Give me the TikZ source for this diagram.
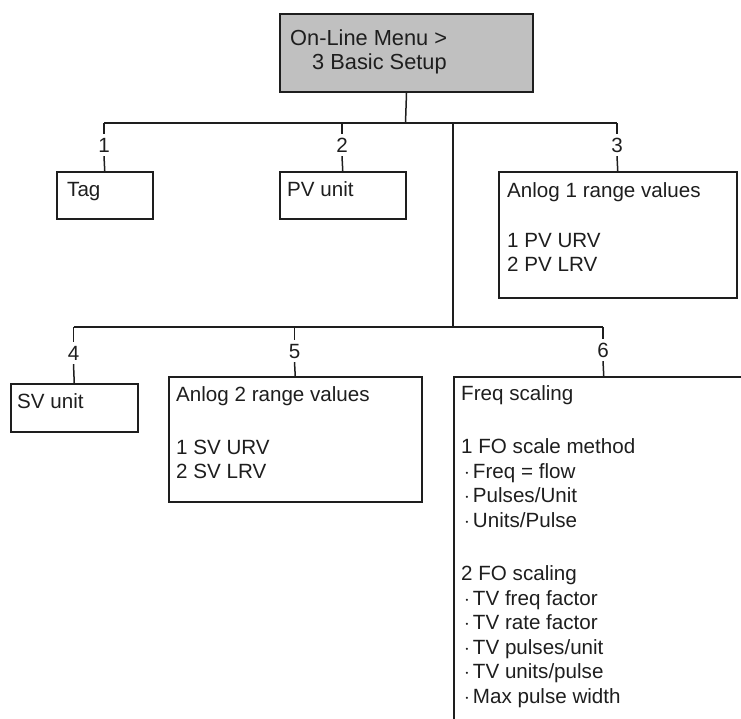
\documentclass[tikz,border=0pt]{standalone}
\usepackage{fontspec}
\setmainfont{Liberation Sans}
\definecolor{boxgray}{RGB}{192,192,192}
\definecolor{ink}{RGB}{30,30,30}
\begin{document}
\begin{tikzpicture}[x=1pt,y=-1pt,
  box/.style={draw=ink,line width=1.5pt,rectangle,anchor=north west,inner sep=0pt},
  txt/.style={anchor=north west,inner sep=0pt,align=left,text=ink,font=\fontsize{20.6}{24.5}\selectfont},
  num/.style={inner xsep=2pt,inner ysep=4pt,text height=14pt,text depth=0pt,text=ink,font=\fontsize{20.6}{24.5}\selectfont},
  conn/.style={draw=ink,line width=1.5pt}]
\useasboundingbox (0,0) rectangle (741,718);
\clip (0,0) rectangle (741,718);

% top box
\node[box,fill=boxgray,line width=2pt,minimum width=253pt,minimum height=78pt] (top) at (279,13) {};
\node[txt,font=\fontsize{21.8}{24}\selectfont] (toptxt) at (290,28.7) {\strut On-Line Menu >\\\hspace*{22pt}3 Basic Setup};

% junction coordinates
\coordinate (j0) at (405.5,123);
\coordinate (c1) at (104,123);
\coordinate (c2) at (342,123);
\coordinate (c3) at (617,123);
\coordinate (t1) at (453,123);
\coordinate (t2) at (453,327);
\coordinate (c4) at (73.5,327);
\coordinate (c5) at (294.5,327);
\coordinate (c6) at (603,327);

% first row boxes
\node[box,minimum width=96pt,minimum height=47pt] (tag) at (56,171) {};
\node[txt] (tagtxt) at (67,178.85) {\strut Tag};
\node[box,minimum width=126pt,minimum height=47pt] (pvu) at (279,171) {};
\node[txt] (pvutxt) at (287,178.85) {\strut PV unit};
\node[box,minimum width=238pt,minimum height=126pt] (an1) at (498,171) {};
\node[txt] (an1txt) at (507,179.85) {\strut Anlog 1 range values\\[25.5pt]1 PV URV\\2 PV LRV};

% second row boxes
\node[box,minimum width=127pt,minimum height=48pt] (svu) at (10,383) {};
\node[txt] (svutxt) at (17,390.85) {\strut SV unit};
\node[box,minimum width=253pt,minimum height=125pt] (an2) at (168,376) {};
\node[txt] (an2txt) at (176,383.85) {\strut Anlog 2 range values\\[28.5pt]1 SV URV\\2 SV LRV};
\node[box,minimum width=300pt,minimum height=400pt] (frq) at (453,376) {};
\node[txt] (frqtxt) at (461,382.85) {\strut Freq scaling\\[29pt]1 FO scale method\\
\hspace*{3pt}$\cdot$\hspace*{3pt}Freq = flow\\
\hspace*{3pt}$\cdot$\hspace*{3pt}Pulses/Unit\\
\hspace*{3pt}$\cdot$\hspace*{3pt}Units/Pulse\\[29pt]
2 FO scaling\\
\hspace*{3pt}$\cdot$\hspace*{3pt}TV freq factor\\
\hspace*{3pt}$\cdot$\hspace*{3pt}TV rate factor\\
\hspace*{3pt}$\cdot$\hspace*{3pt}TV pulses/unit\\
\hspace*{3pt}$\cdot$\hspace*{3pt}TV units/pulse\\
\hspace*{3pt}$\cdot$\hspace*{3pt}Max pulse width};

% number labels
\node[num] (l1) at (104,145) {1};
\node[num] (l2) at (342,145) {2};
\node[num] (l3) at (617,145) {3};
\node[num] (l4) at (73.5,353) {4};
\node[num] (l5) at (294.5,351) {5};
\node[num] (l6) at (603,350) {6};

% connectors
\draw[conn] (top.south) -- (j0);
\draw[conn] (c1) -- (c3);
\draw[conn] (c1) -- (l1.north);
\draw[conn] (l1.south) -- (tag.north);
\draw[conn] (c2) -- (l2.north);
\draw[conn] (l2.south) -- (pvu.north);
\draw[conn] (c3) -- (l3.north);
\draw[conn] (l3.south) -- (an1.north);
\draw[conn] (t1) -- (t2);
\draw[conn] (c4) -- (c6);
\draw[conn] (c4) -- (l4.north);
\draw[conn] (l4.south) -- (svu.north);
\draw[conn] (c5) -- (l5.north);
\draw[conn] (l5.south) -- (an2.north);
\draw[conn] (c6) -- (l6.north);
\draw[conn] (l6.south) -- (frq.north);
\end{tikzpicture}
\end{document}
